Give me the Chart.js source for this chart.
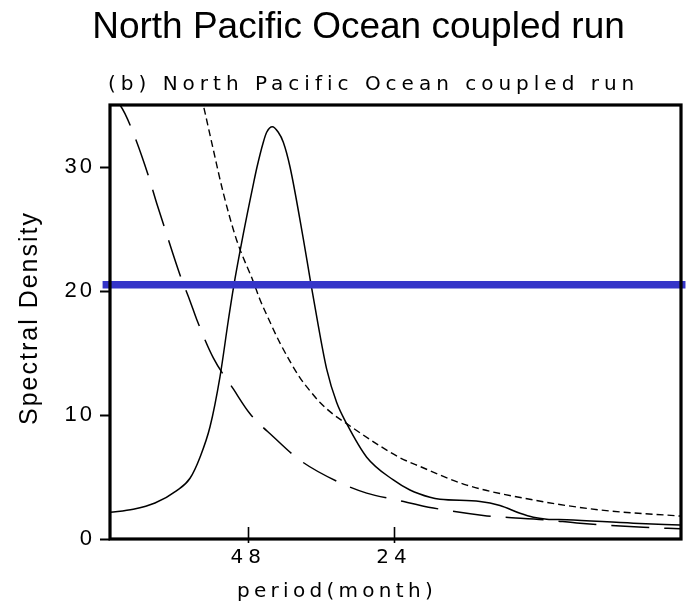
<!DOCTYPE html>
<html><head><meta charset="utf-8">
<script src="https://cdn.jsdelivr.net/npm/chart.js@4.4.1/dist/chart.umd.min.js"></script>
<style>
html,body{margin:0;padding:0;background:#fff;}
#wrap{position:relative;width:686px;height:605px;overflow:hidden;}
#title{position:absolute;left:0;top:7px;width:686px;padding-left:31px;box-sizing:border-box;text-align:center;font:37px/37px "Liberation Sans",Arial,sans-serif;color:#000;white-space:nowrap;}
canvas{position:absolute;left:0;top:0;}
</style></head><body>
<div id="wrap"><canvas id="c" width="686" height="605"></canvas><div id="title"></div></div>
<script>
// ---- text ----
const mainTitle = 'North Pacific Ocean coupled run';
const subTitle = '(b) North Pacific Ocean coupled run';
const xTitle = 'period(month)';
const yTitle = 'Spectral Density';

// ---- axes ----
const periodTicks = [48, 24];          // x tick labels (period in months, placed at frequency 1/period)
const yTicks = [0, 10, 20, 30];
const xRange = [0.00106, 0.0827];      // frequency (cycles / month)
const yRange = [0, 35];

// ---- series (frequency in cycles/month, spectral density) ----
const specFreq = [0.00106, 0.00439, 0.00749, 0.0106, 0.0125, 0.01393, 0.01536, 0.01679, 0.01797, 0.01869, 0.02012, 0.02155, 0.02208, 0.02298, 0.02346, 0.02427, 0.02512, 0.02584, 0.0268, 0.0287, 0.02966, 0.03084, 0.03204, 0.03347, 0.0349, 0.03776, 0.04157, 0.04395, 0.04681, 0.04824, 0.05396, 0.05682, 0.05968, 0.06158, 0.0635, 0.06636, 0.07588, 0.08256];
const specVal  = [2.15, 2.4, 2.9, 3.9, 4.9, 6.6, 9.05, 13.1, 17.6, 20.2, 24.6, 28.6, 30.0, 32.0, 32.8, 33.25, 32.8, 32.0, 30.0, 24.2, 21.0, 17.2, 13.7, 11.0, 9.3, 6.6, 4.76, 3.95, 3.36, 3.2, 3.03, 2.7, 2.07, 1.75, 1.6, 1.55, 1.27, 1.13];

const upperFreq = [0.01378, 0.0144, 0.01583, 0.01726, 0.01917, 0.02155, 0.02251, 0.02369, 0.02537, 0.02823, 0.02966, 0.03109, 0.033, 0.0349, 0.03967, 0.04253, 0.04538, 0.05206, 0.06158, 0.07112, 0.08256];
const upperVal  = [36.5, 35, 31.4, 27.9, 24.1, 20.75, 19.3, 17.8, 15.8, 13.0, 11.95, 11.0, 10.05, 9.3, 7.5, 6.55, 5.85, 4.35, 3.15, 2.34, 1.85];

const redFreq = [0.00106, 0.00249, 0.0032, 0.00463, 0.00649, 0.00778, 0.00892, 0.01107, 0.0125, 0.01346, 0.01583, 0.01869, 0.02108, 0.02441, 0.02823, 0.0337, 0.03776, 0.04205, 0.04729, 0.05443, 0.0635, 0.06826, 0.07731, 0.08256];
const redVal  = [35.9, 35.0, 34.3, 32.4, 29.4, 27.0, 25.0, 21.3, 19.2, 17.7, 14.6, 12.1, 10.1, 8.25, 6.35, 4.6, 3.7, 3.15, 2.5, 1.9, 1.53, 1.27, 0.94, 0.83];

const refFreq = [0, 0.08334];
const refVal  = [20.5, 20.5];

document.getElementById('title').textContent = mainTitle;

const pts = (xs, ys) => xs.map((x, i) => ({x: x, y: ys[i]}));

const deco = {
  id: 'deco',
  beforeDraw(c) { c.ctx.letterSpacing = '3px'; },
  afterDatasetsDraw(c) {
    const ctx = c.ctx, a = c.chartArea, xs = c.scales.x;
    ctx.save();
    ctx.letterSpacing = '0px';
    ctx.strokeStyle = '#000';
    ctx.lineWidth = 3.2;
    ctx.strokeRect(a.left, a.top, a.right - a.left, a.bottom - a.top);
    ctx.lineWidth = 1.6;
    xs.ticks.forEach(t => {
      const px = Math.round(xs.getPixelForValue(t.value)) + 0.5;
      ctx.beginPath(); ctx.moveTo(px, a.bottom - 12); ctx.lineTo(px, a.bottom + 4); ctx.stroke();
    });
    ctx.restore();
    ctx.letterSpacing = '5px';
  },
  afterDraw(c) {
    const ctx = c.ctx, a = c.chartArea;
    ctx.save();
    ctx.fillStyle = '#000';
    // subtitle
    ctx.letterSpacing = '5px';
    ctx.font = '20px "DejaVu Sans"';
    ctx.textAlign = 'left';
    ctx.textBaseline = 'alphabetic';
    ctx.fillText(subTitle, a.left - 2, a.top - 15);
    // x axis title
    ctx.letterSpacing = '4.3px';
    ctx.textAlign = 'center';
    ctx.fillText(xTitle, c.width / 2 - 6, c.height - 8);
    // y axis title
    ctx.letterSpacing = '2px';
    ctx.font = '25px "Liberation Sans"';
    ctx.translate(36.7, (a.top + a.bottom) / 2 - 4);
    ctx.rotate(-Math.PI / 2);
    ctx.fillText(yTitle, 0, 0);
    ctx.restore();
    ctx.letterSpacing = '0px';
  }
};

new Chart(document.getElementById('c'), {
  type: 'line',
  data: {
    datasets: [
      {data: pts(refFreq, refVal), borderColor: '#3535C8', borderWidth: 7.5, clip: false, order: 0, pointRadius: 0},
      {data: pts(specFreq, specVal), borderColor: '#000', borderWidth: 1.5, cubicInterpolationMode: 'monotone', order: 1, pointRadius: 0},
      {data: pts(upperFreq, upperVal), borderColor: '#000', borderWidth: 1.4, borderDash: [7, 4], cubicInterpolationMode: 'monotone', order: 1, pointRadius: 0},
      {data: pts(redFreq, redVal), borderColor: '#000', borderWidth: 1.5, borderDash: [38, 15], cubicInterpolationMode: 'monotone', order: 1, pointRadius: 0}
    ]
  },
  options: {
    responsive: false,
    animation: false,
    devicePixelRatio: 1,
    layout: {padding: {top: 105, right: 5, bottom: 0, left: 0}},
    plugins: {legend: {display: false}, tooltip: {enabled: false}, title: {display: false}},
    scales: {
      x: {
        type: 'linear', min: xRange[0], max: xRange[1],
        afterBuildTicks: s => { s.ticks = periodTicks.map(p => ({value: 1 / p})); },
        afterFit: s => { s.height = 66; },
        ticks: {callback: v => String(Math.round(1 / v)), font: {family: 'DejaVu Sans', size: 20}, color: '#000', padding: 7, autoSkip: false, maxRotation: 0, z: 1},
        grid: {display: false, drawTicks: false, z: 1},
        border: {display: false},
        title: {display: false}
      },
      y: {
        min: yRange[0], max: yRange[1],
        afterBuildTicks: s => { s.ticks = yTicks.map(v => ({value: v})); },
        afterFit: s => { s.width = 110; },
        ticks: {font: {family: 'Liberation Sans', size: 22}, color: '#000', padding: 5},
        grid: {drawOnChartArea: false, drawTicks: true, tickLength: 10, tickWidth: 2, tickColor: '#000', color: '#000'},
        border: {display: false},
        title: {display: false}
      }
    }
  },
  plugins: [deco]
});
</script>
</body></html>
